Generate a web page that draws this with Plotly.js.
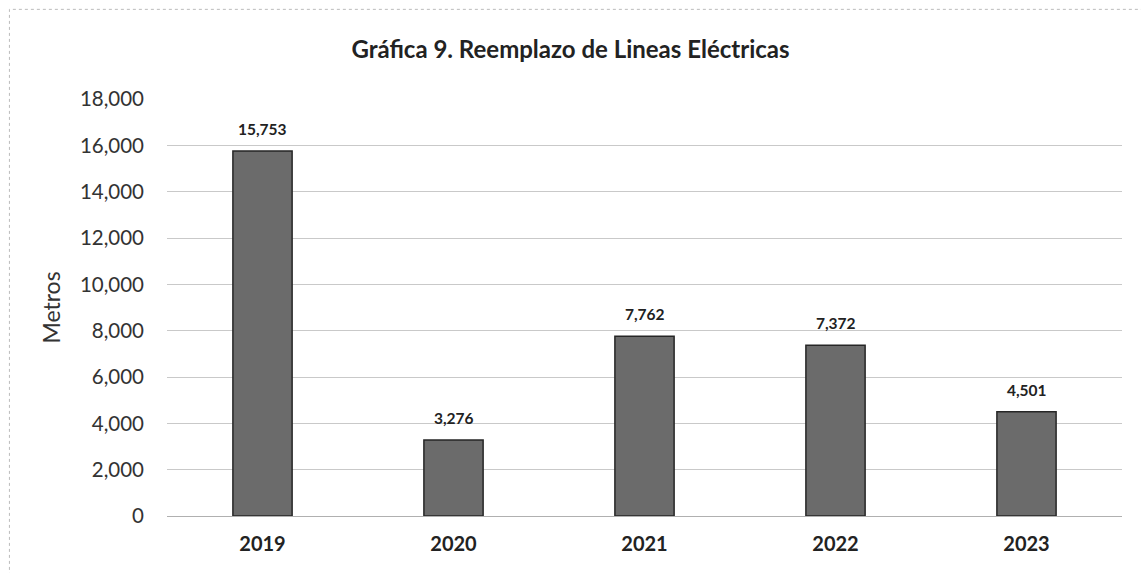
<!DOCTYPE html>
<html>
<head>
<meta charset="utf-8">
<script src="https://cdn.plot.ly/plotly-3.0.1.min.js"></script>
<style>html,body{margin:0;padding:0;background:#fff;}#chart{width:1141px;height:573px;}</style>
</head>
<body>
<div id="chart"></div>
<script>
const years = ['2019', '2020', '2021', '2022', '2023'];
const metros = [15753, 3276, 7762, 7372, 4501];
const labels = ['15,753', '3,276', '7,762', '7,372', '4,501'];
const yTicks = [0, 2000, 4000, 6000, 8000, 10000, 12000, 14000, 16000, 18000];
const yTickText = ['0', '2,000', '4,000', '6,000', '8,000', '10,000', '12,000', '14,000', '16,000', '18,000'];

const FONT = 'Lato, "Open Sans", sans-serif';

const trace = {
  type: 'bar',
  x: years,
  y: metros,
  marker: {color: '#6b6b6b', line: {color: '#262626', width: 1.5}},
  hoverinfo: 'none'
};

const labelAnnotations = years.map((yr, i) => ({
  x: i, y: metros[i], xref: 'x', yref: 'y',
  text: '<b>' + labels[i] + '</b>',
  showarrow: false,
  yanchor: 'bottom',
  yshift: 11,
  font: {family: FONT, size: 15.5, color: '#222'}
}));

const layout = {
  width: 1141, height: 573,
  margin: {l: 167, r: 19, t: 99, b: 57},
  paper_bgcolor: '#ffffff',
  plot_bgcolor: '#ffffff',
  bargap: 0.69,
  showlegend: false,
  font: {family: FONT, color: '#222'},
  title: {
    text: '<b>Gráfica 9. Reemplazo de Lineas Eléctricas</b>',
    x: 0.5, xref: 'container', xanchor: 'center',
    y: 45, yref: 'container', yanchor: 'middle',
    font: {size: 24, color: '#222'}
  },
  xaxis: {
    type: 'category',
    categoryarray: years,
    range: [-0.5, years.length - 0.5],
    tickfont: {size: 20, color: '#222', weight: 'bold'},
    ticklabelstandoff: 14,
    showgrid: false,
    showline: false,
    ticks: ''
  },
  yaxis: {
    range: [0, 18000],
    tickvals: yTicks,
    ticktext: yTickText,
    tickfont: {size: 20.5, color: '#333'},
    ticklabelstandoff: 22,
    showgrid: true,
    gridcolor: '#c9c9c9',
    gridwidth: 1,
    zeroline: true,
    zerolinecolor: '#b0b0b0',
    zerolinewidth: 1,
    ticks: '',
    title: {text: 'Metros', standoff: 12, font: {size: 23, color: '#333'}}
  },
  annotations: labelAnnotations,
  shapes: [
    {type: 'rect', xref: 'paper', yref: 'paper', x0: -0.165, x1: 1.025, y0: -0.17, y1: 1.215,
     line: {color: '#bbbbbb', width: 1, dash: 'dot'}, fillcolor: 'rgba(0,0,0,0)'}
  ]
};

Plotly.newPlot('chart', [trace], layout, {staticPlot: true, displayModeBar: false});
</script>
</body>
</html>
